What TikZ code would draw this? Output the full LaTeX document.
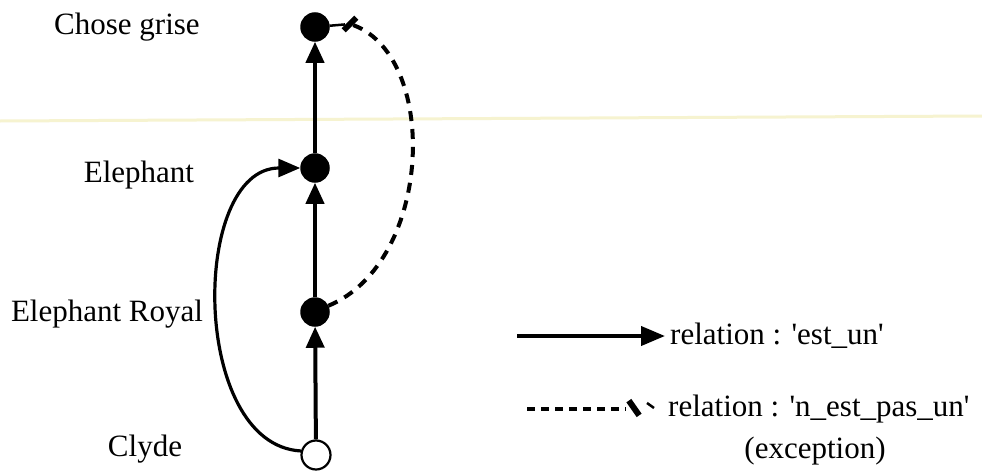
\documentclass[tikz,border=0pt]{standalone}
\usepackage{fontspec}
\setmainfont{Liberation Serif}
\usetikzlibrary{arrows.meta}
\definecolor{scanline}{RGB}{246,243,208}
\newcommand{\sq}{\textquotesingle}
\begin{document}
\begin{tikzpicture}[x=1pt,y=-1pt,
  lbl/.style={font=\fontsize{31}{36}\selectfont, inner sep=0pt},
  full/.style={circle, fill=black, draw=black, line width=1.5pt, minimum size=28pt, inner sep=0pt},
  empty/.style={circle, fill=white, draw=black, line width=2.2pt, minimum size=29pt, inner sep=0pt},
  isa/.style={line width=4pt, -{Triangle[length=21pt,width=18pt]}},
  exc/.style={line width=4pt, dash pattern=on 10pt off 8pt},
  barmark/.style={fill=black, inner sep=0pt, minimum width=6pt, minimum height=18pt}]
\useasboundingbox[fill=white] (0,0) rectangle (982,471);
\draw[scanline, line width=3pt] (0,121) -- (982,116);

% nodes
\node[full]  (cg) at (315,27)  {};
\node[full]  (el) at (315,168) {};
\node[full]  (er) at (315,312) {};
\node[empty] (cl) at (316,455) {};

% labels
\node[lbl] (tcg) at (127,27)  {Chose grise};
\node[lbl] (tel) at (139,175) {Elephant};
\node[lbl] (ter) at (107,314) {Elephant Royal};
\node[lbl] (tcl) at (145,449) {Clyde};

% est_un relations
\draw[isa] (cl) -- (er);
\draw[isa] (er) -- (el);
\draw[isa] (el) -- (cg);
\draw[line width=3.2pt, -{Triangle[length=22pt,width=18pt]}] (cl.165) .. controls (190,445) and (190,168) .. (el.west);

% exception
\coordinate (m) at (350,24);
\draw[exc] (er.25) .. controls (434,262) and (440,52) .. (m);
\node[barmark, rotate=-45] (mb) at (m) {};
\draw[line width=2.5pt] (mb) -- (cg);

% legend
\coordinate (la1) at (517,336);
\coordinate (la2) at (665,336);
\draw[line width=4pt, -{Triangle[length=24pt,width=19pt]}] (la1) -- (la2);
\node[lbl, anchor=west] (t1) at (670,336) {relation : \sq est\_un\sq};

\coordinate (ld1) at (527,409);
\coordinate (ld2) at (626,409);
\draw[line width=3.5pt, dash pattern=on 8pt off 6pt] (ld1) -- (ld2);
\node[barmark, rotate=35] (lb) at (634,408) {};
\coordinate (ld3) at (647,403);
\coordinate (ld4) at (654,408);
\draw[line width=2.5pt] (ld3) -- (ld4);
\node[lbl, anchor=west] (t2) at (668,409) {relation : \sq n\_est\_pas\_un\sq};
\node[lbl] (t3) at (815,451) {(exception)};
\end{tikzpicture}
\end{document}
